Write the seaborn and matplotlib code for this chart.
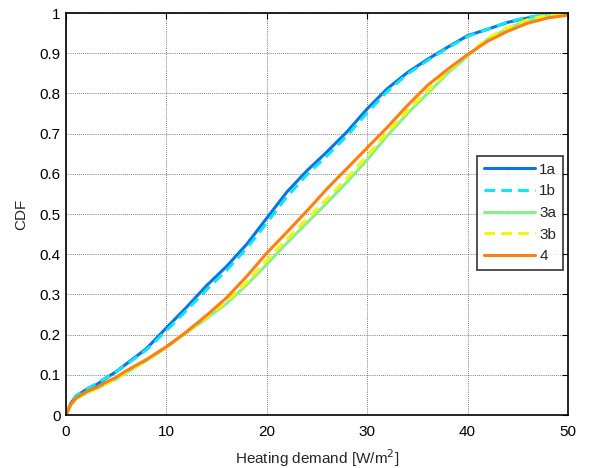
import matplotlib
matplotlib.use("Agg")
import matplotlib.pyplot as plt
import seaborn as sns
import pandas as pd

# heating demand grid [W/m2]
demand = [0, 0.5, 1, 2, 3, 4, 5, 6, 8, 10, 12, 14, 16, 18, 20, 22, 24, 26, 28, 30,
          32, 34, 36, 38, 40, 42, 44, 46, 48, 50]

# CDF values
cdf_1a = [0, 0.030, 0.047, 0.063, 0.075, 0.092, 0.108, 0.127, 0.165, 0.217, 0.268, 0.322,
          0.370, 0.425, 0.490, 0.555, 0.608, 0.655, 0.705, 0.762, 0.812, 0.852, 0.885,
          0.915, 0.944, 0.960, 0.977, 0.988, 0.995, 1.0]
cdf_1b = [0, 0.030, 0.048, 0.064, 0.078, 0.093, 0.108, 0.125, 0.162, 0.210, 0.260, 0.312,
          0.360, 0.415, 0.478, 0.543, 0.598, 0.645, 0.695, 0.752, 0.805, 0.848, 0.882,
          0.913, 0.942, 0.960, 0.978, 0.990, 0.997, 1.0]
cdf_3a = [0, 0.025, 0.040, 0.054, 0.065, 0.078, 0.090, 0.105, 0.135, 0.168, 0.205, 0.240,
          0.278, 0.324, 0.375, 0.428, 0.478, 0.528, 0.580, 0.635, 0.695, 0.750, 0.800,
          0.850, 0.893, 0.935, 0.962, 0.982, 0.994, 1.0]
cdf_3b = [0, 0.027, 0.041, 0.055, 0.065, 0.078, 0.091, 0.106, 0.136, 0.169, 0.206, 0.243,
          0.283, 0.330, 0.385, 0.438, 0.488, 0.538, 0.590, 0.645, 0.703, 0.757, 0.806,
          0.855, 0.896, 0.937, 0.964, 0.984, 0.995, 1.0]
cdf_4 = [0, 0.028, 0.042, 0.058, 0.068, 0.082, 0.094, 0.110, 0.138, 0.170, 0.207, 0.248,
         0.292, 0.345, 0.403, 0.455, 0.508, 0.563, 0.614, 0.665, 0.716, 0.770, 0.820,
         0.860, 0.897, 0.930, 0.955, 0.975, 0.988, 0.995]

serie = {"1a": cdf_1a, "1b": cdf_1b, "3a": cdf_3a, "3b": cdf_3b, "4": cdf_4}
colori = {"1a": "#0a73e6", "1b": "#11e6f0", "3a": "#88f088", "3b": "#f5f50a", "4": "#ff7f10"}
tratteggi = {"1a": "", "1b": (3.5, 2), "3a": "", "3b": (3.5, 2), "4": ""}

righe = []
for nome, valori in serie.items():
    for x, y in zip(demand, valori):
        righe.append({"demand": x, "cdf": y, "caso": nome})
df = pd.DataFrame(righe)

sns.set_style("white")
plt.rcParams["font.family"] = ["Liberation Sans", "DejaVu Sans"]

fig, ax = plt.subplots(figsize=(5.92, 4.68), dpi=100)
fig.subplots_adjust(left=0.1115, right=0.9595, bottom=0.1132, top=0.972)

sns.lineplot(data=df, x="demand", y="cdf", hue="caso", style="caso",
             palette=colori, dashes=tratteggi, linewidth=2.2, ax=ax)

ax.set_xlim(0, 50)
ax.set_ylim(0, 1)
ax.set_xticks(range(0, 51, 10))
ax.set_yticks([i / 10 for i in range(11)])
ax.set_yticklabels(["0", "0.1", "0.2", "0.3", "0.4", "0.5", "0.6", "0.7", "0.8", "0.9", "1"])
ax.tick_params(direction="in", top=True, right=True, length=4, width=0.8,
               labelsize=11, colors="black")
ax.tick_params(axis="x", pad=7)
ax.tick_params(axis="y", pad=4)
ax.grid(True, color="#555555", linestyle=(0, (1, 1.5)), linewidth=0.6)
for lato in ax.spines.values():
    lato.set_color("black")
    lato.set_linewidth(1.2)

ax.set_xlabel("Heating demand [W/m$^2$]", fontsize=11, labelpad=6)
ax.set_ylabel("CDF", fontsize=11, labelpad=8)

leg = ax.legend(loc="upper right", bbox_to_anchor=(0.99, 0.645), fontsize=11,
                frameon=True, fancybox=False, edgecolor="black", handlelength=3.3,
                handletextpad=0.3, labelspacing=0.5, borderpad=0.45, borderaxespad=0)
leg.get_frame().set_linewidth(1.2)

fig.savefig("out.png", dpi=100)
